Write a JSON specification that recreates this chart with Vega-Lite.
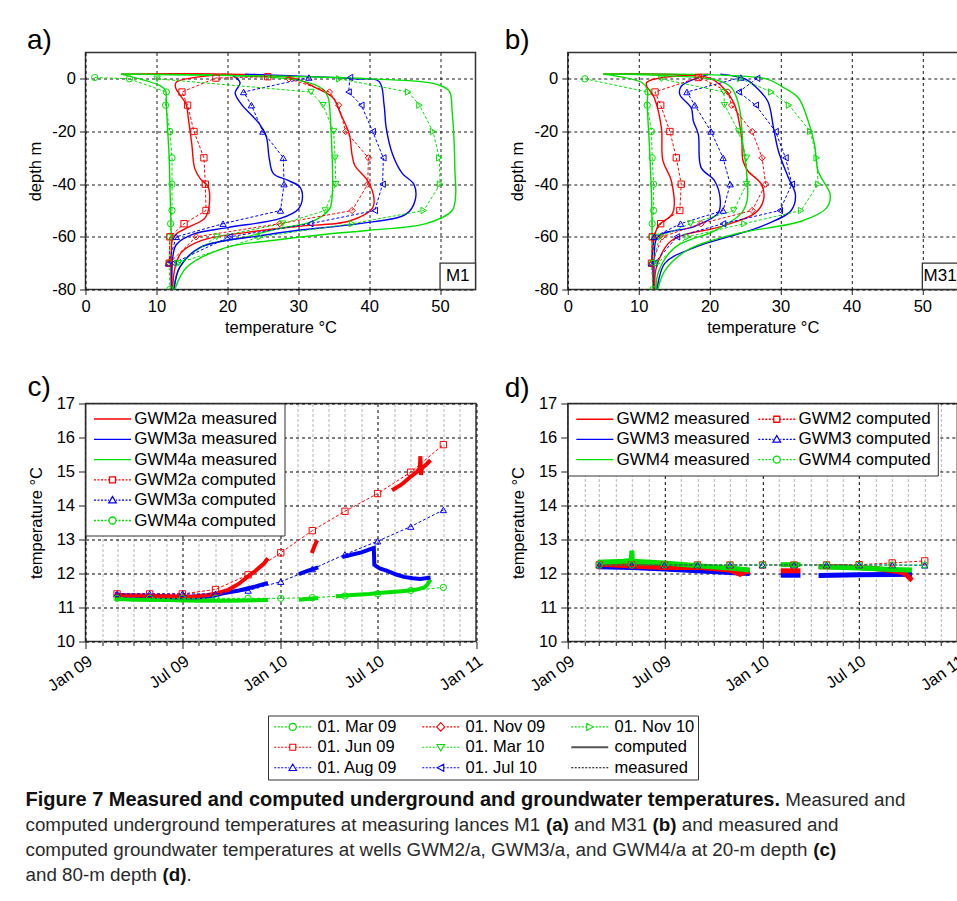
{
  "$schema": "https://vega.github.io/schema/vega-lite/v6.json",
  "padding": {"left": 25.5, "top": 25.5, "right": 0, "bottom": 0},
  "config": {
    "font": "Liberation Sans",
    "view": {"stroke": "#333333", "strokeWidth": 1.5},
    "axis": {"labelFontSize": 16.5, "titleFontSize": 16.5, "labelColor": "black", "titleColor": "black", "titleFontWeight": "normal", "domain": false, "tickColor": "#333333", "tickWidth": 1.1, "gridOpacity": 1, "labelOverlap": false, "labelFlush": false},
    "legend": {"labelFont": "Liberation Sans", "labelColor": "black"},
    "title": {"font": "Liberation Sans", "fontWeight": "normal", "color": "black"}
  },
  "datasets": {
    "aC": [
      {"k":"01. Mar 09","t":5,"z":1.8},{"k":"01. Mar 09","t":10.5,"z":-2.6},{"k":"01. Mar 09","t":11.3,"z":-4.5},{"k":"01. Mar 09","t":11.4,"z":-10},{"k":"01. Mar 09","t":11.6,"z":-20},{"k":"01. Mar 09","t":11.8,"z":-30},{"k":"01. Mar 09","t":11.9,"z":-40},{"k":"01. Mar 09","t":12,"z":-50},{"k":"01. Mar 09","t":12.1,"z":-60},{"k":"01. Mar 09","t":12.1,"z":-70},{"k":"01. Mar 09","t":12.1,"z":-80},
      {"k":"01. Jun 09","t":19.8,"z":1.8},{"k":"01. Jun 09","t":12.8,"z":-1.3},{"k":"01. Jun 09","t":12.7,"z":-3.3},{"k":"01. Jun 09","t":13.3,"z":-6},{"k":"01. Jun 09","t":14.2,"z":-9.7},{"k":"01. Jun 09","t":14.5,"z":-15},{"k":"01. Jun 09","t":15,"z":-25},{"k":"01. Jun 09","t":15.4,"z":-34},{"k":"01. Jun 09","t":16.2,"z":-38},{"k":"01. Jun 09","t":17.3,"z":-41},{"k":"01. Jun 09","t":17.4,"z":-49},{"k":"01. Jun 09","t":16.8,"z":-53},{"k":"01. Jun 09","t":14,"z":-57},{"k":"01. Jun 09","t":12.4,"z":-60},{"k":"01. Jun 09","t":12.1,"z":-66},{"k":"01. Jun 09","t":12.1,"z":-80},
      {"k":"01. Aug 09","t":20.5,"z":1.8},{"k":"01. Aug 09","t":21.8,"z":-1.5},{"k":"01. Aug 09","t":21.1,"z":-5.3},{"k":"01. Aug 09","t":22,"z":-9.7},{"k":"01. Aug 09","t":23.5,"z":-14},{"k":"01. Aug 09","t":24.5,"z":-17},{"k":"01. Aug 09","t":25.5,"z":-22},{"k":"01. Aug 09","t":25.9,"z":-30},{"k":"01. Aug 09","t":26.5,"z":-36},{"k":"01. Aug 09","t":28.5,"z":-38.5},{"k":"01. Aug 09","t":30.2,"z":-41},{"k":"01. Aug 09","t":30.6,"z":-45},{"k":"01. Aug 09","t":30,"z":-49.5},{"k":"01. Aug 09","t":27.5,"z":-53},{"k":"01. Aug 09","t":20,"z":-56.5},{"k":"01. Aug 09","t":15.2,"z":-59},{"k":"01. Aug 09","t":12.8,"z":-63},{"k":"01. Aug 09","t":12.3,"z":-68},{"k":"01. Aug 09","t":12.2,"z":-80},
      {"k":"01. Nov 09","t":5,"z":1.8},{"k":"01. Nov 09","t":29.3,"z":0.2},{"k":"01. Nov 09","t":32.5,"z":-3.4},{"k":"01. Nov 09","t":34.9,"z":-7.2},{"k":"01. Nov 09","t":36,"z":-13.5},{"k":"01. Nov 09","t":37.2,"z":-21},{"k":"01. Nov 09","t":37.6,"z":-29},{"k":"01. Nov 09","t":38,"z":-33},{"k":"01. Nov 09","t":39.6,"z":-38},{"k":"01. Nov 09","t":40.6,"z":-44},{"k":"01. Nov 09","t":40.5,"z":-49},{"k":"01. Nov 09","t":37.2,"z":-54},{"k":"01. Nov 09","t":30,"z":-56},{"k":"01. Nov 09","t":24.6,"z":-57.7},{"k":"01. Nov 09","t":16.2,"z":-61.5},{"k":"01. Nov 09","t":13.5,"z":-66},{"k":"01. Nov 09","t":12.6,"z":-72},{"k":"01. Nov 09","t":12.3,"z":-80},
      {"k":"01. Mar 10","t":5,"z":1.8},{"k":"01. Mar 10","t":30,"z":-0.5},{"k":"01. Mar 10","t":33.5,"z":-4},{"k":"01. Mar 10","t":34.2,"z":-7},{"k":"01. Mar 10","t":34.4,"z":-10},{"k":"01. Mar 10","t":34.6,"z":-18.5},{"k":"01. Mar 10","t":34.8,"z":-31},{"k":"01. Mar 10","t":34.8,"z":-44},{"k":"01. Mar 10","t":34.4,"z":-49.5},{"k":"01. Mar 10","t":32.1,"z":-54},{"k":"01. Mar 10","t":27,"z":-57},{"k":"01. Mar 10","t":22.7,"z":-60},{"k":"01. Mar 10","t":16.2,"z":-64},{"k":"01. Mar 10","t":13.3,"z":-71.5},{"k":"01. Mar 10","t":12.4,"z":-80},
      {"k":"01. Jul 10","t":22.5,"z":1.8},{"k":"01. Jul 10","t":38,"z":0},{"k":"01. Jul 10","t":41.4,"z":-1},{"k":"01. Jul 10","t":42.1,"z":-9.7},{"k":"01. Jul 10","t":42.4,"z":-18.5},{"k":"01. Jul 10","t":43.3,"z":-28.6},{"k":"01. Jul 10","t":44.7,"z":-36},{"k":"01. Jul 10","t":46.3,"z":-40},{"k":"01. Jul 10","t":46.5,"z":-46},{"k":"01. Jul 10","t":45.2,"z":-51.4},{"k":"01. Jul 10","t":38.6,"z":-55},{"k":"01. Jul 10","t":30,"z":-57.5},{"k":"01. Jul 10","t":24.6,"z":-59.6},{"k":"01. Jul 10","t":16.2,"z":-64},{"k":"01. Jul 10","t":13.3,"z":-71.5},{"k":"01. Jul 10","t":12.5,"z":-80},
      {"k":"01. Nov 10","t":5,"z":1.8},{"k":"01. Nov 10","t":40,"z":0},{"k":"01. Nov 10","t":49.4,"z":-2},{"k":"01. Nov 10","t":51.3,"z":-4.7},{"k":"01. Nov 10","t":51.7,"z":-12.2},{"k":"01. Nov 10","t":52,"z":-25},{"k":"01. Nov 10","t":52.1,"z":-35},{"k":"01. Nov 10","t":52.2,"z":-44},{"k":"01. Nov 10","t":51.7,"z":-50},{"k":"01. Nov 10","t":48,"z":-55},{"k":"01. Nov 10","t":40,"z":-57.5},{"k":"01. Nov 10","t":33.9,"z":-59},{"k":"01. Nov 10","t":26,"z":-61.5},{"k":"01. Nov 10","t":19.9,"z":-64},{"k":"01. Nov 10","t":14.3,"z":-71.5},{"k":"01. Nov 10","t":12.6,"z":-80}
    ],
    "aM": [
      {"k":"01. Mar 09","t":1.3,"z":0.5},{"k":"01. Mar 09","t":6.2,"z":0},{"k":"01. Mar 09","t":11.4,"z":-5},{"k":"01. Mar 09","t":11.3,"z":-10},{"k":"01. Mar 09","t":11.9,"z":-20},{"k":"01. Mar 09","t":12.2,"z":-30},{"k":"01. Mar 09","t":12.2,"z":-40},{"k":"01. Mar 09","t":12.2,"z":-50},{"k":"01. Mar 09","t":12,"z":-55},{"k":"01. Mar 09","t":11.9,"z":-60},{"k":"01. Mar 09","t":11.8,"z":-70},{"k":"01. Mar 09","t":11.9,"z":-80},
      {"k":"01. Jun 09","t":25.7,"z":0.8},{"k":"01. Jun 09","t":18.4,"z":0.3},{"k":"01. Jun 09","t":13.6,"z":-5},{"k":"01. Jun 09","t":14.4,"z":-10},{"k":"01. Jun 09","t":15.3,"z":-20},{"k":"01. Jun 09","t":16.7,"z":-30},{"k":"01. Jun 09","t":16.9,"z":-40},{"k":"01. Jun 09","t":17,"z":-50},{"k":"01. Jun 09","t":13.9,"z":-55},{"k":"01. Jun 09","t":11.9,"z":-60},{"k":"01. Jun 09","t":11.8,"z":-70},
      {"k":"01. Aug 09","t":31.5,"z":0.5},{"k":"01. Aug 09","t":22.3,"z":-5},{"k":"01. Aug 09","t":23.4,"z":-10},{"k":"01. Aug 09","t":25,"z":-20},{"k":"01. Aug 09","t":27.9,"z":-30},{"k":"01. Aug 09","t":28,"z":-40},{"k":"01. Aug 09","t":27.5,"z":-50},{"k":"01. Aug 09","t":19.4,"z":-55},{"k":"01. Aug 09","t":12.8,"z":-60},{"k":"01. Aug 09","t":11.7,"z":-70},
      {"k":"01. Nov 09","t":28.7,"z":0},{"k":"01. Nov 09","t":34.4,"z":-5},{"k":"01. Nov 09","t":35.7,"z":-10},{"k":"01. Nov 09","t":36.7,"z":-20},{"k":"01. Nov 09","t":39.9,"z":-30},{"k":"01. Nov 09","t":39.8,"z":-40},{"k":"01. Nov 09","t":37.6,"z":-50},{"k":"01. Nov 09","t":27.4,"z":-55},{"k":"01. Nov 09","t":15.6,"z":-60},{"k":"01. Nov 09","t":11.8,"z":-70},
      {"k":"01. Mar 10","t":10.1,"z":0},{"k":"01. Mar 10","t":31.8,"z":-5},{"k":"01. Mar 10","t":33.5,"z":-10},{"k":"01. Mar 10","t":35,"z":-20},{"k":"01. Mar 10","t":35.2,"z":-30},{"k":"01. Mar 10","t":35.3,"z":-40},{"k":"01. Mar 10","t":33.8,"z":-50},{"k":"01. Mar 10","t":27.8,"z":-55},{"k":"01. Mar 10","t":18.5,"z":-60},{"k":"01. Mar 10","t":13.1,"z":-70},
      {"k":"01. Jul 10","t":37.3,"z":0.5},{"k":"01. Jul 10","t":37.1,"z":-5},{"k":"01. Jul 10","t":38.9,"z":-10},{"k":"01. Jul 10","t":40.5,"z":-20},{"k":"01. Jul 10","t":42,"z":-30},{"k":"01. Jul 10","t":41.9,"z":-40},{"k":"01. Jul 10","t":40.8,"z":-50},{"k":"01. Jul 10","t":31.7,"z":-55},{"k":"01. Jul 10","t":20.3,"z":-60},{"k":"01. Jul 10","t":12.4,"z":-70},
      {"k":"01. Nov 10","t":35.8,"z":0},{"k":"01. Nov 10","t":45.5,"z":-5},{"k":"01. Nov 10","t":47.1,"z":-10},{"k":"01. Nov 10","t":49,"z":-20},{"k":"01. Nov 10","t":49.9,"z":-30},{"k":"01. Nov 10","t":50,"z":-40},{"k":"01. Nov 10","t":47.7,"z":-50},{"k":"01. Nov 10","t":37.6,"z":-55},{"k":"01. Nov 10","t":24.6,"z":-60},{"k":"01. Nov 10","t":13,"z":-70}
    ],
    "bC": [
      {"k":"01. Mar 09","t":5,"z":1.8},{"k":"01. Mar 09","t":10.5,"z":-1.5},{"k":"01. Mar 09","t":11.2,"z":-4},{"k":"01. Mar 09","t":11.2,"z":-9.7},{"k":"01. Mar 09","t":11.5,"z":-25},{"k":"01. Mar 09","t":11.8,"z":-44},{"k":"01. Mar 09","t":11.9,"z":-60},{"k":"01. Mar 09","t":12,"z":-80},
      {"k":"01. Jun 09","t":19.8,"z":1.8},{"k":"01. Jun 09","t":11.1,"z":-1.5},{"k":"01. Jun 09","t":12.2,"z":-7.2},{"k":"01. Jun 09","t":13.2,"z":-18.5},{"k":"01. Jun 09","t":13.4,"z":-31},{"k":"01. Jun 09","t":14.6,"z":-38.7},{"k":"01. Jun 09","t":14.8,"z":-51},{"k":"01. Jun 09","t":12.7,"z":-56},{"k":"01. Jun 09","t":12,"z":-64},{"k":"01. Jun 09","t":12.1,"z":-80},
      {"k":"01. Aug 09","t":20,"z":1.8},{"k":"01. Aug 09","t":16,"z":-2.8},{"k":"01. Aug 09","t":15.8,"z":-6},{"k":"01. Aug 09","t":17.4,"z":-11},{"k":"01. Aug 09","t":17.7,"z":-16},{"k":"01. Aug 09","t":18.4,"z":-21},{"k":"01. Aug 09","t":18.8,"z":-33.7},{"k":"01. Aug 09","t":20.7,"z":-38.7},{"k":"01. Aug 09","t":21.5,"z":-46},{"k":"01. Aug 09","t":21.2,"z":-51},{"k":"01. Aug 09","t":17.9,"z":-56},{"k":"01. Aug 09","t":12.7,"z":-60},{"k":"01. Aug 09","t":12.2,"z":-69},{"k":"01. Aug 09","t":12.2,"z":-80},
      {"k":"01. Nov 09","t":5,"z":1.8},{"k":"01. Nov 09","t":20,"z":0.3},{"k":"01. Nov 09","t":21.7,"z":-2.8},{"k":"01. Nov 09","t":23.5,"z":-9.7},{"k":"01. Nov 09","t":24.5,"z":-22},{"k":"01. Nov 09","t":24.7,"z":-31},{"k":"01. Nov 09","t":25.4,"z":-35},{"k":"01. Nov 09","t":27.3,"z":-40},{"k":"01. Nov 09","t":27.6,"z":-46},{"k":"01. Nov 09","t":26.4,"z":-51},{"k":"01. Nov 09","t":21.7,"z":-56},{"k":"01. Nov 09","t":14.6,"z":-61.5},{"k":"01. Nov 09","t":12.5,"z":-71.5},{"k":"01. Nov 09","t":12.3,"z":-80},
      {"k":"01. Mar 10","t":5,"z":1.8},{"k":"01. Mar 10","t":21,"z":-0.5},{"k":"01. Mar 10","t":23.1,"z":-3.4},{"k":"01. Mar 10","t":24.2,"z":-11},{"k":"01. Mar 10","t":24.7,"z":-25},{"k":"01. Mar 10","t":25.2,"z":-35},{"k":"01. Mar 10","t":25.3,"z":-46},{"k":"01. Mar 10","t":24.5,"z":-51},{"k":"01. Mar 10","t":20.7,"z":-57.7},{"k":"01. Mar 10","t":15.1,"z":-64},{"k":"01. Mar 10","t":12.7,"z":-74},{"k":"01. Mar 10","t":12.5,"z":-80},
      {"k":"01. Jul 10","t":21.5,"z":1.8},{"k":"01. Jul 10","t":25,"z":0},{"k":"01. Jul 10","t":26.4,"z":-2.8},{"k":"01. Jul 10","t":28.2,"z":-8.5},{"k":"01. Jul 10","t":29,"z":-18.5},{"k":"01. Jul 10","t":29.7,"z":-27.4},{"k":"01. Jul 10","t":31.1,"z":-37.5},{"k":"01. Jul 10","t":32.1,"z":-44},{"k":"01. Jul 10","t":31.5,"z":-50},{"k":"01. Jul 10","t":27.3,"z":-56},{"k":"01. Jul 10","t":17.9,"z":-64},{"k":"01. Jul 10","t":13.7,"z":-70},{"k":"01. Jul 10","t":12.6,"z":-80},
      {"k":"01. Nov 10","t":5,"z":1.8},{"k":"01. Nov 10","t":28,"z":0},{"k":"01. Nov 10","t":30.1,"z":-2.8},{"k":"01. Nov 10","t":32.5,"z":-7.2},{"k":"01. Nov 10","t":33.9,"z":-16},{"k":"01. Nov 10","t":34.8,"z":-25},{"k":"01. Nov 10","t":35.3,"z":-35},{"k":"01. Nov 10","t":37,"z":-44},{"k":"01. Nov 10","t":36.5,"z":-49},{"k":"01. Nov 10","t":33,"z":-54},{"k":"01. Nov 10","t":23.5,"z":-59},{"k":"01. Nov 10","t":16.9,"z":-65},{"k":"01. Nov 10","t":13.7,"z":-72.8},{"k":"01. Nov 10","t":12.7,"z":-80}
    ],
    "bM": [
      {"k":"01. Mar 09","t":2.4,"z":0},{"k":"01. Mar 09","t":11.3,"z":-5},{"k":"01. Mar 09","t":11.2,"z":-10},{"k":"01. Mar 09","t":11.8,"z":-20},{"k":"01. Mar 09","t":11.9,"z":-30},{"k":"01. Mar 09","t":12.1,"z":-40},{"k":"01. Mar 09","t":12.1,"z":-50},{"k":"01. Mar 09","t":11.9,"z":-55},{"k":"01. Mar 09","t":11.9,"z":-60},{"k":"01. Mar 09","t":11.8,"z":-70},{"k":"01. Mar 09","t":12,"z":-80},
      {"k":"01. Jun 09","t":18.4,"z":0.5},{"k":"01. Jun 09","t":12.3,"z":-5},{"k":"01. Jun 09","t":13.1,"z":-10},{"k":"01. Jun 09","t":14.4,"z":-20},{"k":"01. Jun 09","t":15.3,"z":-30},{"k":"01. Jun 09","t":16,"z":-40},{"k":"01. Jun 09","t":15.8,"z":-50},{"k":"01. Jun 09","t":13.1,"z":-55},{"k":"01. Jun 09","t":11.9,"z":-60},{"k":"01. Jun 09","t":11.8,"z":-70},
      {"k":"01. Aug 09","t":24.4,"z":0.5},{"k":"01. Aug 09","t":16.8,"z":-5},{"k":"01. Aug 09","t":17.9,"z":-10},{"k":"01. Aug 09","t":20.2,"z":-20},{"k":"01. Aug 09","t":21.9,"z":-30},{"k":"01. Aug 09","t":22.9,"z":-40},{"k":"01. Aug 09","t":21.9,"z":-50},{"k":"01. Aug 09","t":15.9,"z":-55},{"k":"01. Aug 09","t":12.2,"z":-60},{"k":"01. Aug 09","t":11.8,"z":-70},
      {"k":"01. Nov 09","t":18.7,"z":0.5},{"k":"01. Nov 09","t":22.6,"z":-5},{"k":"01. Nov 09","t":23.1,"z":-10},{"k":"01. Nov 09","t":26,"z":-20},{"k":"01. Nov 09","t":27.4,"z":-30},{"k":"01. Nov 09","t":27.9,"z":-40},{"k":"01. Nov 09","t":26,"z":-50},{"k":"01. Nov 09","t":18.8,"z":-55},{"k":"01. Nov 09","t":13.3,"z":-60},{"k":"01. Nov 09","t":11.9,"z":-70},
      {"k":"01. Mar 10","t":13.2,"z":0},{"k":"01. Mar 10","t":22,"z":-5},{"k":"01. Mar 10","t":22.1,"z":-10},{"k":"01. Mar 10","t":24.1,"z":-20},{"k":"01. Mar 10","t":25.2,"z":-30},{"k":"01. Mar 10","t":25.2,"z":-40},{"k":"01. Mar 10","t":23.4,"z":-50},{"k":"01. Mar 10","t":17.3,"z":-55},{"k":"01. Mar 10","t":12.9,"z":-60},{"k":"01. Mar 10","t":12.1,"z":-70},
      {"k":"01. Jul 10","t":26.7,"z":0.2},{"k":"01. Jul 10","t":24.1,"z":-5},{"k":"01. Jul 10","t":26.5,"z":-10},{"k":"01. Jul 10","t":29.3,"z":-20},{"k":"01. Jul 10","t":30.7,"z":-30},{"k":"01. Jul 10","t":31.6,"z":-40},{"k":"01. Jul 10","t":29.9,"z":-50},{"k":"01. Jul 10","t":21.9,"z":-55},{"k":"01. Jul 10","t":15.4,"z":-60},{"k":"01. Jul 10","t":12.2,"z":-70},
      {"k":"01. Nov 10","t":24.3,"z":0.1},{"k":"01. Nov 10","t":28.7,"z":-5},{"k":"01. Nov 10","t":31.2,"z":-10},{"k":"01. Nov 10","t":34.2,"z":-20},{"k":"01. Nov 10","t":35.1,"z":-30},{"k":"01. Nov 10","t":35.3,"z":-40},{"k":"01. Nov 10","t":32.9,"z":-50},{"k":"01. Nov 10","t":24.9,"z":-55},{"k":"01. Nov 10","t":16.9,"z":-60},{"k":"01. Nov 10","t":12.6,"z":-70}
    ],
    "cM": [
      {"s":"GWM4a measured","g":1,"d":"2009-02-25","t":11.26},{"s":"GWM4a measured","g":1,"d":"2009-04-01","t":11.23},{"s":"GWM4a measured","g":1,"d":"2009-06-01","t":11.22},{"s":"GWM4a measured","g":1,"d":"2009-08-01","t":11.2},{"s":"GWM4a measured","g":1,"d":"2009-10-01","t":11.2},{"s":"GWM4a measured","g":1,"d":"2009-12-08","t":11.22},
      {"s":"GWM4a measured","g":2,"d":"2010-02-04","t":11.23},{"s":"GWM4a measured","g":2,"d":"2010-03-12","t":11.28},
      {"s":"GWM4a measured","g":3,"d":"2010-04-14","t":11.33},{"s":"GWM4a measured","g":3,"d":"2010-05-15","t":11.37},{"s":"GWM4a measured","g":3,"d":"2010-06-15","t":11.4},{"s":"GWM4a measured","g":3,"d":"2010-07-15","t":11.44},{"s":"GWM4a measured","g":3,"d":"2010-08-15","t":11.48},{"s":"GWM4a measured","g":3,"d":"2010-09-10","t":11.52},{"s":"GWM4a measured","g":3,"d":"2010-09-25","t":11.58},{"s":"GWM4a measured","g":3,"d":"2010-10-01","t":11.65},{"s":"GWM4a measured","g":3,"d":"2010-10-08","t":11.82},
      {"s":"GWM3a measured","g":1,"d":"2009-02-25","t":11.4},{"s":"GWM3a measured","g":1,"d":"2009-03-15","t":11.35},{"s":"GWM3a measured","g":1,"d":"2009-05-01","t":11.33},{"s":"GWM3a measured","g":1,"d":"2009-06-15","t":11.3},{"s":"GWM3a measured","g":1,"d":"2009-08-01","t":11.3},{"s":"GWM3a measured","g":1,"d":"2009-08-25","t":11.33},{"s":"GWM3a measured","g":1,"d":"2009-09-15","t":11.42},{"s":"GWM3a measured","g":1,"d":"2009-10-15","t":11.5},{"s":"GWM3a measured","g":1,"d":"2009-11-15","t":11.62},{"s":"GWM3a measured","g":1,"d":"2009-12-08","t":11.72},
      {"s":"GWM3a measured","g":2,"d":"2010-02-04","t":11.98},{"s":"GWM3a measured","g":2,"d":"2010-02-20","t":12.08},{"s":"GWM3a measured","g":2,"d":"2010-03-12","t":12.18},
      {"s":"GWM3a measured","g":3,"d":"2010-04-26","t":12.48},{"s":"GWM3a measured","g":3,"d":"2010-05-15","t":12.56},{"s":"GWM3a measured","g":3,"d":"2010-06-01","t":12.62},{"s":"GWM3a measured","g":3,"d":"2010-06-15","t":12.7},{"s":"GWM3a measured","g":3,"d":"2010-06-24","t":12.75},{"s":"GWM3a measured","g":3,"d":"2010-06-25","t":12.25},{"s":"GWM3a measured","g":3,"d":"2010-07-05","t":12.15},{"s":"GWM3a measured","g":3,"d":"2010-07-19","t":12.08},{"s":"GWM3a measured","g":3,"d":"2010-08-05","t":11.97},{"s":"GWM3a measured","g":3,"d":"2010-08-19","t":11.9},{"s":"GWM3a measured","g":3,"d":"2010-09-05","t":11.86},{"s":"GWM3a measured","g":3,"d":"2010-09-19","t":11.84},{"s":"GWM3a measured","g":3,"d":"2010-10-08","t":11.88},
      {"s":"GWM2a measured","g":1,"d":"2009-02-25","t":11.38},{"s":"GWM2a measured","g":1,"d":"2009-03-15","t":11.36},{"s":"GWM2a measured","g":1,"d":"2009-04-15","t":11.35},{"s":"GWM2a measured","g":1,"d":"2009-05-15","t":11.34},{"s":"GWM2a measured","g":1,"d":"2009-06-15","t":11.33},{"s":"GWM2a measured","g":1,"d":"2009-07-15","t":11.32},{"s":"GWM2a measured","g":1,"d":"2009-08-15","t":11.36},{"s":"GWM2a measured","g":1,"d":"2009-09-05","t":11.42},{"s":"GWM2a measured","g":1,"d":"2009-09-25","t":11.52},{"s":"GWM2a measured","g":1,"d":"2009-10-15","t":11.7},{"s":"GWM2a measured","g":1,"d":"2009-11-01","t":11.92},{"s":"GWM2a measured","g":1,"d":"2009-11-15","t":12.08},{"s":"GWM2a measured","g":1,"d":"2009-12-01","t":12.3},{"s":"GWM2a measured","g":1,"d":"2009-12-08","t":12.45},
      {"s":"GWM2a measured","g":2,"d":"2010-02-28","t":12.6},{"s":"GWM2a measured","g":2,"d":"2010-03-05","t":12.8},{"s":"GWM2a measured","g":2,"d":"2010-03-10","t":12.98},
      {"s":"GWM2a measured","g":3,"d":"2010-07-28","t":14.45},{"s":"GWM2a measured","g":3,"d":"2010-08-15","t":14.62},{"s":"GWM2a measured","g":3,"d":"2010-09-01","t":14.85},{"s":"GWM2a measured","g":3,"d":"2010-09-12","t":14.98},{"s":"GWM2a measured","g":3,"d":"2010-09-18","t":15.1},{"s":"GWM2a measured","g":3,"d":"2010-09-19","t":15.45},{"s":"GWM2a measured","g":3,"d":"2010-09-20","t":14.9},{"s":"GWM2a measured","g":3,"d":"2010-09-22","t":15.1},{"s":"GWM2a measured","g":3,"d":"2010-10-01","t":15.22},{"s":"GWM2a measured","g":3,"d":"2010-10-08","t":15.33}
    ],
    "cC": [
      {"s":"GWM2a computed","d":"2009-03-01","t":11.4},{"s":"GWM2a computed","d":"2009-05-01","t":11.4},{"s":"GWM2a computed","d":"2009-07-01","t":11.4},{"s":"GWM2a computed","d":"2009-09-01","t":11.53},{"s":"GWM2a computed","d":"2009-11-01","t":11.96},{"s":"GWM2a computed","d":"2010-01-01","t":12.61},{"s":"GWM2a computed","d":"2010-03-01","t":13.26},{"s":"GWM2a computed","d":"2010-05-01","t":13.83},{"s":"GWM2a computed","d":"2010-07-01","t":14.35},{"s":"GWM2a computed","d":"2010-09-01","t":14.98},{"s":"GWM2a computed","d":"2010-11-01","t":15.79},
      {"s":"GWM3a computed","d":"2009-03-01","t":11.4},{"s":"GWM3a computed","d":"2009-05-01","t":11.4},{"s":"GWM3a computed","d":"2009-07-01","t":11.4},{"s":"GWM3a computed","d":"2009-09-01","t":11.4},{"s":"GWM3a computed","d":"2009-11-01","t":11.5},{"s":"GWM3a computed","d":"2010-01-01","t":11.76},{"s":"GWM3a computed","d":"2010-03-01","t":12.13},{"s":"GWM3a computed","d":"2010-05-01","t":12.56},{"s":"GWM3a computed","d":"2010-07-01","t":12.95},{"s":"GWM3a computed","d":"2010-09-01","t":13.38},{"s":"GWM3a computed","d":"2010-11-01","t":13.87},
      {"s":"GWM4a computed","d":"2009-03-01","t":11.27},{"s":"GWM4a computed","d":"2009-05-01","t":11.27},{"s":"GWM4a computed","d":"2009-07-01","t":11.27},{"s":"GWM4a computed","d":"2009-09-01","t":11.27},{"s":"GWM4a computed","d":"2009-11-01","t":11.27},{"s":"GWM4a computed","d":"2010-01-01","t":11.27},{"s":"GWM4a computed","d":"2010-03-01","t":11.29},{"s":"GWM4a computed","d":"2010-05-01","t":11.34},{"s":"GWM4a computed","d":"2010-07-01","t":11.4},{"s":"GWM4a computed","d":"2010-09-01","t":11.5},{"s":"GWM4a computed","d":"2010-11-01","t":11.59}
    ],
    "dM": [
      {"s":"GWM3 measured","g":1,"d":"2009-02-26","t":12.2},{"s":"GWM3 measured","g":1,"d":"2009-05-01","t":12.18},{"s":"GWM3 measured","g":1,"d":"2009-07-01","t":12.13},{"s":"GWM3 measured","g":1,"d":"2009-09-01","t":12.08},{"s":"GWM3 measured","g":1,"d":"2009-11-01","t":12.03},{"s":"GWM3 measured","g":1,"d":"2009-12-08","t":12.0},
      {"s":"GWM3 measured","g":2,"d":"2010-02-04","t":11.95},{"s":"GWM3 measured","g":2,"d":"2010-03-13","t":11.95},
      {"s":"GWM3 measured","g":3,"d":"2010-04-16","t":11.94},{"s":"GWM3 measured","g":3,"d":"2010-07-01","t":11.96},{"s":"GWM3 measured","g":3,"d":"2010-09-01","t":11.97},{"s":"GWM3 measured","g":3,"d":"2010-10-08","t":11.98},
      {"s":"GWM2 measured","g":1,"d":"2009-02-26","t":12.28},{"s":"GWM2 measured","g":1,"d":"2009-05-01","t":12.22},{"s":"GWM2 measured","g":1,"d":"2009-07-01","t":12.18},{"s":"GWM2 measured","g":1,"d":"2009-09-01","t":12.18},{"s":"GWM2 measured","g":1,"d":"2009-11-01","t":12.1},{"s":"GWM2 measured","g":1,"d":"2009-11-20","t":11.98},{"s":"GWM2 measured","g":1,"d":"2009-12-01","t":12.05},{"s":"GWM2 measured","g":1,"d":"2009-12-08","t":12.08},
      {"s":"GWM2 measured","g":2,"d":"2010-02-04","t":12.08},{"s":"GWM2 measured","g":2,"d":"2010-03-13","t":12.08},
      {"s":"GWM2 measured","g":3,"d":"2010-04-16","t":12.2},{"s":"GWM2 measured","g":3,"d":"2010-06-01","t":12.2},{"s":"GWM2 measured","g":3,"d":"2010-08-01","t":12.15},{"s":"GWM2 measured","g":3,"d":"2010-09-15","t":12.05},{"s":"GWM2 measured","g":3,"d":"2010-09-25","t":12.0},{"s":"GWM2 measured","g":3,"d":"2010-10-05","t":11.85},{"s":"GWM2 measured","g":3,"d":"2010-10-08","t":11.9},
      {"s":"GWM4 measured","g":1,"d":"2009-02-26","t":12.33},{"s":"GWM4 measured","g":1,"d":"2009-04-15","t":12.36},{"s":"GWM4 measured","g":1,"d":"2009-04-30","t":12.38},{"s":"GWM4 measured","g":1,"d":"2009-05-01","t":12.67},{"s":"GWM4 measured","g":1,"d":"2009-05-02","t":12.36},{"s":"GWM4 measured","g":1,"d":"2009-07-01","t":12.31},{"s":"GWM4 measured","g":1,"d":"2009-09-01","t":12.23},{"s":"GWM4 measured","g":1,"d":"2009-11-01","t":12.16},{"s":"GWM4 measured","g":1,"d":"2009-12-08","t":12.1},
      {"s":"GWM4 measured","g":2,"d":"2010-02-04","t":12.26},{"s":"GWM4 measured","g":2,"d":"2010-03-13","t":12.26},
      {"s":"GWM4 measured","g":3,"d":"2010-04-16","t":12.2},{"s":"GWM4 measured","g":3,"d":"2010-07-01","t":12.16},{"s":"GWM4 measured","g":3,"d":"2010-09-01","t":12.12},{"s":"GWM4 measured","g":3,"d":"2010-10-08","t":12.1}
    ],
    "dC": [
      {"s":"GWM2 computed","d":"2009-03-01","t":12.25},{"s":"GWM2 computed","d":"2009-05-01","t":12.25},{"s":"GWM2 computed","d":"2009-07-01","t":12.25},{"s":"GWM2 computed","d":"2009-09-01","t":12.25},{"s":"GWM2 computed","d":"2009-11-01","t":12.25},{"s":"GWM2 computed","d":"2010-01-01","t":12.25},{"s":"GWM2 computed","d":"2010-03-01","t":12.25},{"s":"GWM2 computed","d":"2010-05-01","t":12.25},{"s":"GWM2 computed","d":"2010-07-01","t":12.26},{"s":"GWM2 computed","d":"2010-09-01","t":12.31},{"s":"GWM2 computed","d":"2010-11-01","t":12.37},
      {"s":"GWM3 computed","d":"2009-03-01","t":12.25},{"s":"GWM3 computed","d":"2009-05-01","t":12.25},{"s":"GWM3 computed","d":"2009-07-01","t":12.25},{"s":"GWM3 computed","d":"2009-09-01","t":12.25},{"s":"GWM3 computed","d":"2009-11-01","t":12.25},{"s":"GWM3 computed","d":"2010-01-01","t":12.25},{"s":"GWM3 computed","d":"2010-03-01","t":12.25},{"s":"GWM3 computed","d":"2010-05-01","t":12.25},{"s":"GWM3 computed","d":"2010-07-01","t":12.25},{"s":"GWM3 computed","d":"2010-09-01","t":12.25},{"s":"GWM3 computed","d":"2010-11-01","t":12.24},
      {"s":"GWM4 computed","d":"2009-03-01","t":12.25},{"s":"GWM4 computed","d":"2009-05-01","t":12.25},{"s":"GWM4 computed","d":"2009-07-01","t":12.25},{"s":"GWM4 computed","d":"2009-09-01","t":12.25},{"s":"GWM4 computed","d":"2009-11-01","t":12.25},{"s":"GWM4 computed","d":"2010-01-01","t":12.25},{"s":"GWM4 computed","d":"2010-03-01","t":12.25},{"s":"GWM4 computed","d":"2010-05-01","t":12.25},{"s":"GWM4 computed","d":"2010-07-01","t":12.25},{"s":"GWM4 computed","d":"2010-09-01","t":12.25},{"s":"GWM4 computed","d":"2010-11-01","t":12.25}
    ]
  },
  "resolve": {"scale": {"color": "independent", "shape": "independent"}, "legend": {"color": "independent", "shape": "independent"}},
  "bounds": "flush",
  "columns": 2,
  "spacing": {"row": 114, "column": 91.3},
  "concat": [
    {
      "width": 390, "height": 237,
      "title": {"text": "a)", "anchor": "start", "frame": "group", "dx": -58.5, "dy": 27.5, "offset": 3, "fontSize": 28, "baseline": "alphabetic"},
      "layer": [
        {
          "encoding": {
            "x": {"field": "t", "type": "quantitative", "scale": {"domain": [0, 55], "nice": false, "zero": false},
                  "axis": {"title": "temperature °C", "values": [0,5,10,15,20,25,30,35,40,45,50,55], "labelExpr": "datum.value % 10 == 0 && datum.value <= 50 ? datum.label : ''", "grid": true, "gridColor": "black", "gridDash": [3,3], "gridWidth": 0.9, "tickSize": 5, "labelPadding": 4, "titlePadding": 4}},
            "y": {"field": "z", "type": "quantitative", "scale": {"domain": [-80, 10], "nice": false, "zero": false},
                  "axis": {"title": "depth m", "values": [-80,-70,-60,-50,-40,-30,-20,-10,0,10], "labelExpr": "datum.value % 20 == 0 && datum.value <= 0 ? (datum.value < 0 ? '-' + abs(datum.value) : '0') : ''", "grid": true, "gridColor": "black", "gridDash": [3,3], "gridWidth": 0.9, "tickSize": 6, "labelPadding": 4, "titlePadding": 8}}
          },
          "layer": [
            {"data": {"name": "aC"}, "mark": {"type": "line", "interpolate": "catmull-rom", "strokeWidth": 1.4, "clip": true},
             "encoding": {"order": {"field": "z", "sort": "descending"},
               "color": {"field": "k", "type": "nominal",
                 "scale": {"domain": ["01. Mar 09","01. Jun 09","01. Aug 09","01. Nov 09","01. Mar 10","01. Jul 10","01. Nov 10","computed","measured"], "range": ["#00e000","#ff0000","#0000ff","#ff0000","#00e000","#0000ff","#00e000","#555555","#000000"]},
                 "legend": {"orient": "none", "legendX": 182.5, "legendY": 663, "columns": 3, "title": null, "padding": 3, "rowPadding": 3.5, "columnPadding": 21, "labelFontSize": 16.5, "labelOffset": 35, "symbolOffset": -5, "symbolSize": 100, "strokeColor": "#333333", "fillColor": "white", "labelLimit": 300,
                   "encode": {"symbols": {"update": {
                     "shape": {"signal": "datum.value=='computed' ? 'M0,0H7.4' : datum.value=='measured' ? 'M0,0H0.4M0.7,0H1.1M1.4,0H1.8M2.1,0H2.5M2.8,0H3.2M3.5,0H3.9M4.2,0H4.6M4.9,0H5.3M5.6,0H6M6.3,0H6.7M7,0H7.4' : 'M0,0H0.4M0.7,0H1.1M1.4,0H1.8M2.1,0H2.5M2.8,0H3M4.4,0H4.6M4.9,0H5.3M5.6,0H6M6.3,0H6.7M7,0H7.4' + (datum.value=='01. Mar 09' ? 'M3,0A0.7,0.7,0,1,0,4.4,0A0.7,0.7,0,1,0,3,0Z' : datum.value=='01. Jun 09' ? 'M3.1,-0.6H4.3V0.6H3.1Z' : datum.value=='01. Aug 09' ? 'M3.7,-0.75L4.45,0.55H2.95Z' : datum.value=='01. Nov 09' ? 'M3.7,-0.85L4.5,0L3.7,0.85L2.9,0Z' : datum.value=='01. Mar 10' ? 'M2.95,-0.55H4.45L3.7,0.75Z' : datum.value=='01. Jul 10' ? 'M3,0L4.3,-0.7V0.7Z' : 'M3.1,-0.7L4.4,0L3.1,0.7Z')"},
                     "strokeWidth": {"signal": "datum.value=='computed' ? 2 : 1.1"},
                     "fill": {"value": "transparent"}}}}}}}},
            {"data": {"name": "aM"}, "mark": {"type": "line", "strokeDash": [3,2], "strokeWidth": 1, "clip": true},
             "encoding": {"order": {"field": "z", "sort": "descending"},
               "color": {"field": "k", "type": "nominal", "scale": {"domain": ["01. Mar 09","01. Jun 09","01. Aug 09","01. Nov 09","01. Mar 10","01. Jul 10","01. Nov 10","computed","measured"], "range": ["#00e000","#ff0000","#0000ff","#ff0000","#00e000","#0000ff","#00e000","#555555","#000000"]}, "legend": null}}},
            {"data": {"name": "aM"}, "mark": {"type": "point", "filled": false, "size": 40, "strokeWidth": 1, "opacity": 1, "clip": true},
             "encoding": {
               "color": {"field": "k", "type": "nominal", "scale": {"domain": ["01. Mar 09","01. Jun 09","01. Aug 09","01. Nov 09","01. Mar 10","01. Jul 10","01. Nov 10","computed","measured"], "range": ["#00e000","#ff0000","#0000ff","#ff0000","#00e000","#0000ff","#00e000","#555555","#000000"]}, "legend": null},
               "shape": {"field": "k", "type": "nominal", "scale": {"domain": ["01. Mar 09","01. Jun 09","01. Aug 09","01. Nov 09","01. Mar 10","01. Jul 10","01. Nov 10"], "range": ["circle","square","triangle-up","diamond","triangle-down","triangle-left","triangle-right"]}, "legend": null}}}
          ]
        },
        {"data": {"values": [{"lab": "M1"}]}, "mark": {"type": "rect", "fill": "white", "stroke": "#333333", "strokeWidth": 1.3},
         "encoding": {"x": {"datum": 50, "type": "quantitative"}, "x2": {"datum": 55}, "y": {"datum": -80, "type": "quantitative"}, "y2": {"datum": -70}}},
        {"data": {"values": [{"lab": "M1"}]}, "mark": {"type": "text", "fontSize": 17, "color": "black"},
         "encoding": {"x": {"datum": 52.5, "type": "quantitative"}, "y": {"datum": -75, "type": "quantitative"}, "text": {"field": "lab", "type": "nominal"}}}
      ]
    },
    {
      "width": 390, "height": 237,
      "title": {"text": "b)", "anchor": "start", "frame": "group", "dx": -63, "dy": 27.5, "offset": 3, "fontSize": 28, "baseline": "alphabetic"},
      "layer": [
        {
          "encoding": {
            "x": {"field": "t", "type": "quantitative", "scale": {"domain": [0, 55], "nice": false, "zero": false},
                  "axis": {"title": "temperature °C", "values": [0,5,10,15,20,25,30,35,40,45,50,55], "labelExpr": "datum.value % 10 == 0 && datum.value <= 50 ? datum.label : ''", "grid": true, "gridColor": "black", "gridDash": [3,3], "gridWidth": 0.9, "tickSize": 5, "labelPadding": 4, "titlePadding": 4}},
            "y": {"field": "z", "type": "quantitative", "scale": {"domain": [-80, 10], "nice": false, "zero": false},
                  "axis": {"title": "depth m", "values": [-80,-70,-60,-50,-40,-30,-20,-10,0,10], "labelExpr": "datum.value % 20 == 0 && datum.value <= 0 ? (datum.value < 0 ? '-' + abs(datum.value) : '0') : ''", "grid": true, "gridColor": "black", "gridDash": [3,3], "gridWidth": 0.9, "tickSize": 6, "labelPadding": 4, "titlePadding": 8}}
          },
          "layer": [
            {"data": {"name": "bC"}, "mark": {"type": "line", "interpolate": "catmull-rom", "strokeWidth": 1.4, "clip": true},
             "encoding": {"order": {"field": "z", "sort": "descending"},
               "color": {"field": "k", "type": "nominal", "scale": {"domain": ["01. Mar 09","01. Jun 09","01. Aug 09","01. Nov 09","01. Mar 10","01. Jul 10","01. Nov 10","computed","measured"], "range": ["#00e000","#ff0000","#0000ff","#ff0000","#00e000","#0000ff","#00e000","#555555","#000000"]}, "legend": null}}},
            {"data": {"name": "bM"}, "mark": {"type": "line", "strokeDash": [3,2], "strokeWidth": 1, "clip": true},
             "encoding": {"order": {"field": "z", "sort": "descending"},
               "color": {"field": "k", "type": "nominal", "scale": {"domain": ["01. Mar 09","01. Jun 09","01. Aug 09","01. Nov 09","01. Mar 10","01. Jul 10","01. Nov 10","computed","measured"], "range": ["#00e000","#ff0000","#0000ff","#ff0000","#00e000","#0000ff","#00e000","#555555","#000000"]}, "legend": null}}},
            {"data": {"name": "bM"}, "mark": {"type": "point", "filled": false, "size": 40, "strokeWidth": 1, "opacity": 1, "clip": true},
             "encoding": {
               "color": {"field": "k", "type": "nominal", "scale": {"domain": ["01. Mar 09","01. Jun 09","01. Aug 09","01. Nov 09","01. Mar 10","01. Jul 10","01. Nov 10","computed","measured"], "range": ["#00e000","#ff0000","#0000ff","#ff0000","#00e000","#0000ff","#00e000","#555555","#000000"]}, "legend": null},
               "shape": {"field": "k", "type": "nominal", "scale": {"domain": ["01. Mar 09","01. Jun 09","01. Aug 09","01. Nov 09","01. Mar 10","01. Jul 10","01. Nov 10"], "range": ["circle","square","triangle-up","diamond","triangle-down","triangle-left","triangle-right"]}, "legend": null}}}
          ]
        },
        {"data": {"values": [{"lab": "M31"}]}, "mark": {"type": "rect", "fill": "white", "stroke": "#333333", "strokeWidth": 1.3},
         "encoding": {"x": {"datum": 50, "type": "quantitative"}, "x2": {"datum": 55}, "y": {"datum": -80, "type": "quantitative"}, "y2": {"datum": -70}}},
        {"data": {"values": [{"lab": "M31"}]}, "mark": {"type": "text", "fontSize": 17, "color": "black"},
         "encoding": {"x": {"datum": 52.5, "type": "quantitative"}, "y": {"datum": -75, "type": "quantitative"}, "text": {"field": "lab", "type": "nominal"}}}
      ]
    },
    {
      "width": 390.5, "height": 238,
      "title": {"text": "c)", "anchor": "start", "frame": "group", "dx": -58, "dy": 35, "offset": 7, "fontSize": 28, "baseline": "alphabetic"},
      "encoding": {
        "x": {"field": "d", "type": "temporal",
              "scale": {"type": "utc", "domain": [{"year": 2009, "month": 1, "date": 1, "utc": true}, {"year": 2011, "month": 1, "date": 1, "utc": true}], "nice": false},
              "axis": {"title": null, "tickCount": {"interval": "month", "step": 1}, "labelExpr": "utcmonth(datum.value) % 6 == 0 ? utcFormat(datum.value, '%b %y') : ''", "labelAngle": -35, "labelAlign": "right", "labelBaseline": "top", "labelPadding": 4, "grid": true,
                "gridColor": {"condition": {"test": "utcmonth(datum.value) % 6 == 0", "value": "black"}, "value": "#b4b4b4"},
                "gridDash": {"condition": {"test": "utcmonth(datum.value) % 6 == 0", "value": [3,3]}, "value": [3,2]},
                "tickSize": {"condition": {"test": "utcmonth(datum.value) % 6 == 0", "value": 7}, "value": 4}}},
        "y": {"field": "t", "type": "quantitative", "scale": {"domain": [10, 17], "nice": false, "zero": false},
              "axis": {"title": "temperature °C", "values": [10,10.5,11,11.5,12,12.5,13,13.5,14,14.5,15,15.5,16,16.5,17], "format": "d", "labelExpr": "datum.value % 1 == 0 ? datum.label : ''", "grid": true,
                "gridColor": {"condition": {"test": "datum.value % 1 == 0", "value": "black"}, "value": "#b4b4b4"},
                "gridDash": {"condition": {"test": "datum.value % 1 == 0", "value": [3,3]}, "value": [3,2]},
                "tickSize": {"condition": {"test": "datum.value % 1 == 0", "value": 7}, "value": 4}, "labelPadding": 4, "titlePadding": 12}}
      },
      "layer": [
        {"data": {"name": "cM"}, "mark": {"type": "line", "strokeWidth": 4},
         "encoding": {"detail": {"field": "g"},
           "color": {"field": "s", "type": "nominal",
             "scale": {"domain": ["GWM2a measured","GWM3a measured","GWM4a measured","GWM2a computed","GWM3a computed","GWM4a computed"], "range": ["#ff0000","#0000ff","#00e000","#ff0000","#0000ff","#00e000"]},
             "legend": {"orient": "top-left", "offset": 0, "title": null, "padding": 7, "rowPadding": 2.3, "labelFontSize": 17, "labelOffset": 31.7, "symbolOffset": -7, "symbolSize": 100, "strokeColor": "#333333", "fillColor": "white", "labelLimit": 300,
               "encode": {"symbols": {"update": {
                 "shape": {"signal": "indexof(datum.value,'measured') >= 0 ? 'M0,0H7.4' : 'M0,0H0.4M0.7,0H1.1M1.4,0H1.8M2.1,0H2.5M2.8,0H3M4.4,0H4.6M4.9,0H5.3M5.6,0H6M6.3,0H6.7M7,0H7.4' + (indexof(datum.value,'GWM2') >= 0 ? 'M3.1,-0.6H4.3V0.6H3.1Z' : indexof(datum.value,'GWM3') >= 0 ? 'M3.7,-0.75L4.45,0.55H2.95Z' : 'M3,0A0.7,0.7,0,1,0,4.4,0A0.7,0.7,0,1,0,3,0Z')"},
                 "strokeWidth": {"value": 1.3},
                 "fill": {"value": "transparent"}}}}}}}},
        {"data": {"name": "cC"}, "mark": {"type": "line", "strokeDash": [3,2], "strokeWidth": 1},
         "encoding": {"color": {"field": "s", "type": "nominal", "scale": {"domain": ["GWM2a measured","GWM3a measured","GWM4a measured","GWM2a computed","GWM3a computed","GWM4a computed"], "range": ["#ff0000","#0000ff","#00e000","#ff0000","#0000ff","#00e000"]}, "legend": null}}},
        {"data": {"name": "cC"}, "mark": {"type": "point", "filled": false, "size": 40, "strokeWidth": 1, "opacity": 1},
         "encoding": {"color": {"field": "s", "type": "nominal", "scale": {"domain": ["GWM2a measured","GWM3a measured","GWM4a measured","GWM2a computed","GWM3a computed","GWM4a computed"], "range": ["#ff0000","#0000ff","#00e000","#ff0000","#0000ff","#00e000"]}, "legend": null},
           "shape": {"field": "s", "type": "nominal", "scale": {"domain": ["GWM2a computed","GWM3a computed","GWM4a computed"], "range": ["square","triangle-up","circle"]}, "legend": null}}}
      ]
    },
    {
      "width": 389.5, "height": 238,
      "title": {"text": "d)", "anchor": "start", "frame": "group", "dx": -63, "dy": 35, "offset": 6, "fontSize": 28, "baseline": "alphabetic"},
      "encoding": {
        "x": {"field": "d", "type": "temporal",
              "scale": {"type": "utc", "domain": [{"year": 2009, "month": 1, "date": 1, "utc": true}, {"year": 2011, "month": 1, "date": 1, "utc": true}], "nice": false},
              "axis": {"title": null, "tickCount": {"interval": "month", "step": 1}, "labelExpr": "utcmonth(datum.value) % 6 == 0 ? utcFormat(datum.value, '%b %y') : ''", "labelAngle": -35, "labelAlign": "right", "labelBaseline": "top", "labelPadding": 4, "grid": true,
                "gridColor": {"condition": {"test": "utcmonth(datum.value) % 6 == 0", "value": "black"}, "value": "#b4b4b4"},
                "gridDash": {"condition": {"test": "utcmonth(datum.value) % 6 == 0", "value": [3,3]}, "value": [3,2]},
                "tickSize": {"condition": {"test": "utcmonth(datum.value) % 6 == 0", "value": 7}, "value": 4}}},
        "y": {"field": "t", "type": "quantitative", "scale": {"domain": [10, 17], "nice": false, "zero": false},
              "axis": {"title": "temperature °C", "values": [10,10.5,11,11.5,12,12.5,13,13.5,14,14.5,15,15.5,16,16.5,17], "format": "d", "labelExpr": "datum.value % 1 == 0 ? datum.label : ''", "grid": true,
                "gridColor": {"condition": {"test": "datum.value % 1 == 0", "value": "black"}, "value": "#b4b4b4"},
                "gridDash": {"condition": {"test": "datum.value % 1 == 0", "value": [3,3]}, "value": [3,2]},
                "tickSize": {"condition": {"test": "datum.value % 1 == 0", "value": 7}, "value": 4}, "labelPadding": 4, "titlePadding": 12}}
      },
      "layer": [
        {"data": {"name": "dM"}, "mark": {"type": "line", "strokeWidth": 5},
         "encoding": {"detail": {"field": "g"},
           "color": {"field": "s", "type": "nominal",
             "scale": {"domain": ["GWM2 measured","GWM3 measured","GWM4 measured","GWM2 computed","GWM3 computed","GWM4 computed"], "range": ["#ff0000","#0000ff","#00e000","#ff0000","#0000ff","#00e000"]},
             "legend": {"orient": "top-left", "offset": 0, "title": null, "columns": 2, "columnPadding": 5, "padding": 7, "rowPadding": 2.3, "labelFontSize": 17, "labelOffset": 31.7, "symbolOffset": -7, "symbolSize": 100, "strokeColor": "#333333", "fillColor": "white", "labelLimit": 300,
               "encode": {"symbols": {"update": {
                 "shape": {"signal": "indexof(datum.value,'measured') >= 0 ? 'M0,0H7.4' : 'M0,0H0.4M0.7,0H1.1M1.4,0H1.8M2.1,0H2.5M2.8,0H3M4.4,0H4.6M4.9,0H5.3M5.6,0H6M6.3,0H6.7M7,0H7.4' + (indexof(datum.value,'GWM2') >= 0 ? 'M3.1,-0.6H4.3V0.6H3.1Z' : indexof(datum.value,'GWM3') >= 0 ? 'M3.7,-0.75L4.45,0.55H2.95Z' : 'M3,0A0.7,0.7,0,1,0,4.4,0A0.7,0.7,0,1,0,3,0Z')"},
                 "strokeWidth": {"value": 1.3},
                 "fill": {"value": "transparent"}}}}}}}},
        {"data": {"name": "dC"}, "mark": {"type": "line", "strokeDash": [3,2], "strokeWidth": 1},
         "encoding": {"color": {"field": "s", "type": "nominal", "scale": {"domain": ["GWM2 measured","GWM3 measured","GWM4 measured","GWM2 computed","GWM3 computed","GWM4 computed"], "range": ["#ff0000","#0000ff","#00e000","#ff0000","#0000ff","#00e000"]}, "legend": null}}},
        {"data": {"name": "dC"}, "mark": {"type": "point", "filled": false, "size": 40, "strokeWidth": 1, "opacity": 1},
         "encoding": {"color": {"field": "s", "type": "nominal", "scale": {"domain": ["GWM2 measured","GWM3 measured","GWM4 measured","GWM2 computed","GWM3 computed","GWM4 computed"], "range": ["#ff0000","#0000ff","#00e000","#ff0000","#0000ff","#00e000"]}, "legend": null},
           "shape": {"field": "s", "type": "nominal", "scale": {"domain": ["GWM2 computed","GWM3 computed","GWM4 computed"], "range": ["square","triangle-up","circle"]}, "legend": null}}}
      ]
    },
    {
      "width": 390, "height": 139,
      "view": {"stroke": null},
      "encoding": {
        "x": {"value": 0},
        "y": {"field": "n", "type": "ordinal", "scale": {"type": "point", "domain": [0,1,2,3,4], "padding": 0.78}, "axis": null},
        "text": {"field": "txt"}
      },
      "layer": [
        {"data": {"values": [{"n": 1, "txt": "Figure 7 Measured and computed underground and groundwater temperatures."}]},
         "mark": {"type": "text", "align": "left", "baseline": "middle", "dx": -60, "fontSize": 20, "fontWeight": "bold", "color": "#111111"}},
        {"data": {"values": [{"n": 1, "txt": "Measured and"}]},
         "mark": {"type": "text", "align": "left", "baseline": "middle", "dx": 699.8, "fontSize": 18.8, "color": "#2a2a2a"}},
        {"data": {"values": [{"n": 2, "txt": "computed underground temperatures at measuring lances M1"}, {"n": 3, "txt": "computed groundwater temperatures at wells GWM2/a, GWM3/a, and GWM4/a at 20-m depth"}, {"n": 4, "txt": "and 80-m depth"}]},
         "mark": {"type": "text", "align": "left", "baseline": "middle", "dx": -60, "fontSize": 18.8, "color": "#2a2a2a"}},
        {"data": {"values": [{"n": 2, "txt": "(a)"}]},
         "mark": {"type": "text", "align": "left", "baseline": "middle", "dx": 460.4, "fontSize": 18.8, "fontWeight": "bold", "color": "#111111"}},
        {"data": {"values": [{"n": 2, "txt": "and M31"}]},
         "mark": {"type": "text", "align": "left", "baseline": "middle", "dx": 488.6, "fontSize": 18.8, "color": "#2a2a2a"}},
        {"data": {"values": [{"n": 2, "txt": "(b)"}]},
         "mark": {"type": "text", "align": "left", "baseline": "middle", "dx": 567.0, "fontSize": 18.8, "fontWeight": "bold", "color": "#111111"}},
        {"data": {"values": [{"n": 2, "txt": "and measured and"}]},
         "mark": {"type": "text", "align": "left", "baseline": "middle", "dx": 596.2, "fontSize": 18.8, "color": "#2a2a2a"}},
        {"data": {"values": [{"n": 3, "txt": "(c)"}]},
         "mark": {"type": "text", "align": "left", "baseline": "middle", "dx": 727.8, "fontSize": 18.8, "fontWeight": "bold", "color": "#111111"}},
        {"data": {"values": [{"n": 4, "txt": "(d)"}]},
         "mark": {"type": "text", "align": "left", "baseline": "middle", "dx": 76.9, "fontSize": 18.8, "fontWeight": "bold", "color": "#111111"}},
        {"data": {"values": [{"n": 4, "txt": "."}]},
         "mark": {"type": "text", "align": "left", "baseline": "middle", "dx": 100.9, "fontSize": 18.8, "color": "#2a2a2a"}}
      ]
    }
  ]
}
